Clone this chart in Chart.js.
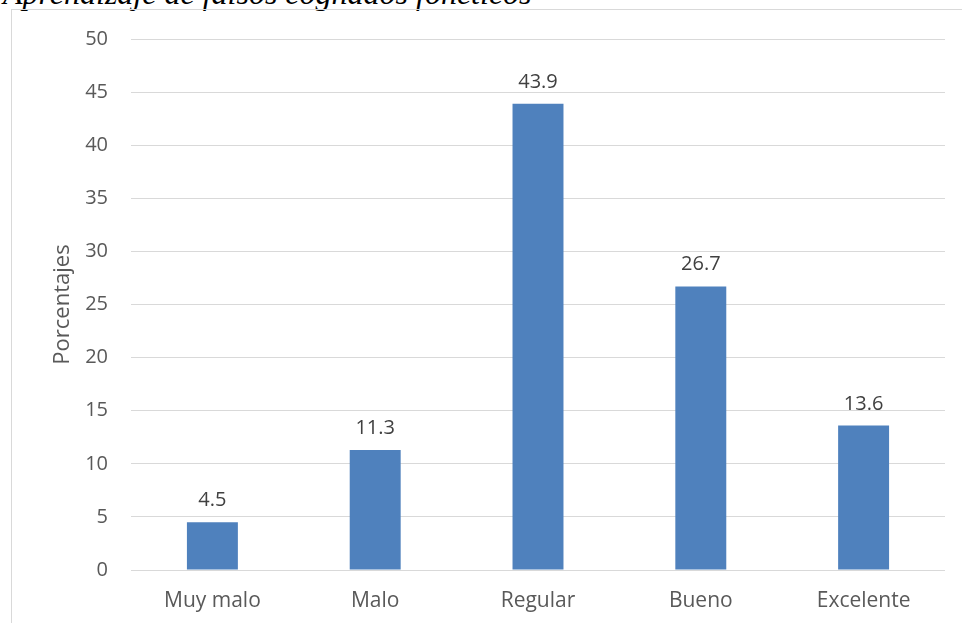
<!DOCTYPE html>
<html lang="es">
<head>
<meta charset="utf-8">
<title>Aprendizaje de falsos cognados fonéticos</title>
<script src="https://cdn.jsdelivr.net/npm/chart.js@4.4.1/dist/chart.umd.min.js"></script>
<style>
  html, body { margin: 0; padding: 0; background: #fff; overflow: hidden; }
  #wrap { position: relative; width: 962px; height: 623px; }
  #frame {
    position: absolute; left: 11px; top: 9px; width: 1000px; height: 1000px;
    border: 1px solid #d9d9d9; box-sizing: border-box; pointer-events: none;
  }
  #doc-title {
    position: absolute; left: 3px; top: -25px; margin: 0;
    font: italic 32px "Liberation Serif", "DejaVu Serif", serif; color: #000;
    white-space: nowrap;
  }
  canvas { position: absolute; left: 0; top: 0; }
</style>
</head>
<body>
<div id="wrap">
  <p id="doc-title">Aprendizaje de falsos cognados fonéticos</p>
  <div id="frame"></div>
  <canvas id="chart" width="962" height="623"></canvas>
</div>
<script>
// Datos del gráfico
const CATEGORIES = ['Muy malo', 'Malo', 'Regular', 'Bueno', 'Excelente'];
const PERCENTS   = [4.5, 11.3, 43.9, 26.7, 13.6];
const Y_MIN = 0, Y_MAX = 50, Y_STEP = 5;
const Y_TITLE = 'Porcentajes';

const FONT = '"Open Sans", "Liberation Sans", sans-serif';
const BAR_COLOR = '#4f81bd';
const GRID_COLOR = '#d9d9d9';

// ── Etiquetas sobre las barras ──────────────────────────────────────────────
const barLabels = {
  id: 'barLabels',
  afterDatasetsDraw(chart) {
    const ctx  = chart.ctx;
    const meta = chart.getDatasetMeta(0);
    ctx.save();
    ctx.font = '20px ' + FONT;
    ctx.fillStyle = '#404040';
    ctx.textAlign = 'center';
    ctx.textBaseline = 'alphabetic';
    meta.data.forEach((bar, i) => {
      ctx.fillText(PERCENTS[i].toFixed(1), bar.x, bar.y - 16);
    });
    ctx.restore();
  }
};

new Chart(document.getElementById('chart').getContext('2d'), {
  type: 'bar',
  data: {
    labels: CATEGORIES,
    datasets: [{
      data: PERCENTS,
      backgroundColor: BAR_COLOR,
      borderWidth: 0,
      barPercentage: 0.626,
      categoryPercentage: 0.5
    }]
  },
  options: {
    responsive: false,
    animation: false,
    devicePixelRatio: 1,
    layout: { padding: { left: 0, top: 39, right: 17, bottom: 0 } },
    plugins: {
      legend: { display: false },
      tooltip: { enabled: false }
    },
    scales: {
      x: {
        grid: { display: false, drawTicks: false },
        border: { display: false },
        ticks: { color: '#595959', font: { family: FONT, size: 21 }, padding: 18 },
        afterFit: s => { s.height = 53; }
      },
      y: {
        min: Y_MIN,
        max: Y_MAX,
        ticks: { stepSize: Y_STEP, color: '#595959', font: { family: FONT, size: 20 }, padding: 23 },
        grid: { color: GRID_COLOR, lineWidth: 1, drawTicks: false },
        border: { display: false },
        title: {
          display: true,
          text: Y_TITLE,
          color: '#595959',
          font: { family: FONT, size: 22 },
          padding: { top: 50, bottom: 0 }
        },
        afterFit: s => { s.width = 131; }
      }
    }
  },
  plugins: [barLabels]
});
</script>
</body>
</html>
